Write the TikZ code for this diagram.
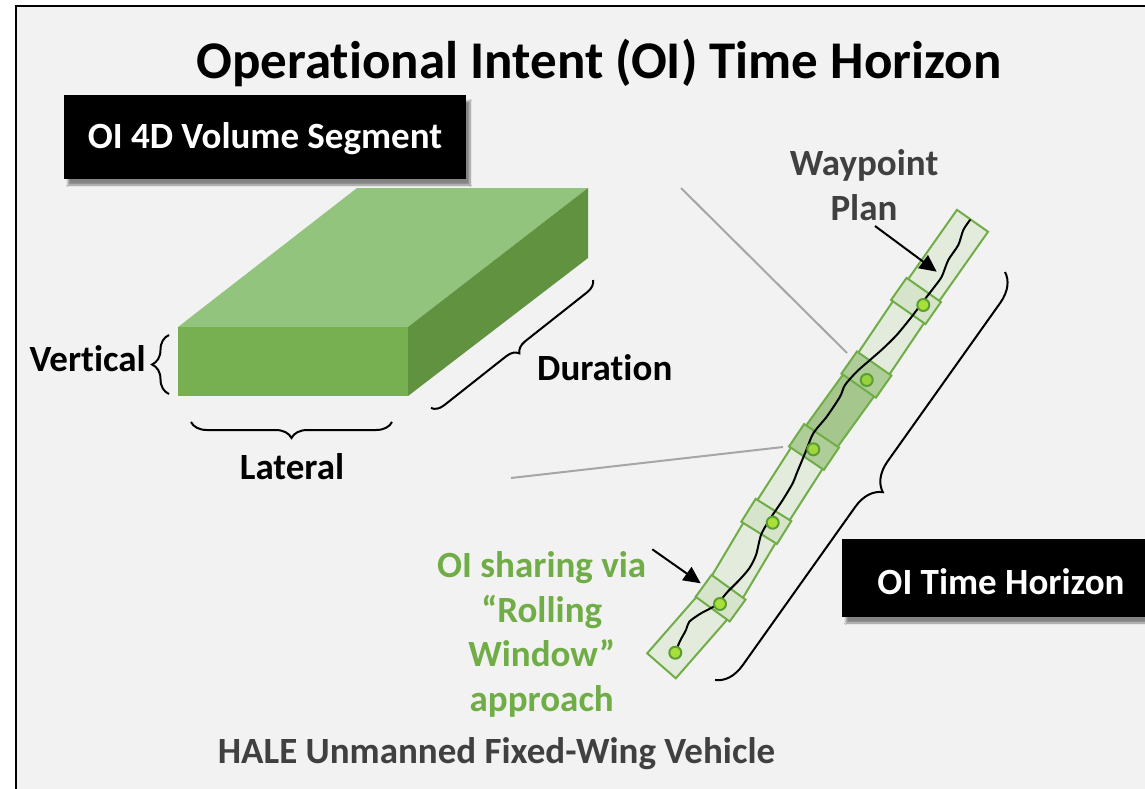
\documentclass[tikz,border=0pt]{standalone}
\usepackage{fontspec}
\setmainfont{Carlito}[RawFeature={-liga;-clig;-calt;-dlig}]
\usetikzlibrary{calc,arrows.meta,decorations.pathreplacing,shadows.blur}
\definecolor{oigreen}{HTML}{70AD47}
\definecolor{stripfill}{HTML}{E3EBDD}
\definecolor{boxfill}{HTML}{D6E4CC}
\definecolor{darkfill}{HTML}{A5C78E}
\definecolor{darkbox}{HTML}{AECD98}
\definecolor{dotfill}{HTML}{A8E03A}
\definecolor{dotring}{HTML}{5E9C36}
\definecolor{guidegray}{HTML}{A6A6A6}
\definecolor{textgray}{HTML}{404040}
\definecolor{bgfill}{HTML}{F2F2F2}
\definecolor{topface}{HTML}{93C47D}
\definecolor{frontface}{HTML}{76B050}
\definecolor{sideface}{HTML}{60923F}
\newcommand\stripseg[3]{%
  \filldraw[segline,fill=#3] ($(#1)!19pt!90:(#2)$) -- ($(#2)!19pt!-90:(#1)$) -- ($(#2)!19pt!90:(#1)$) -- ($(#1)!19pt!-90:(#2)$) -- cycle;}
\begin{document}
\begin{tikzpicture}[x=1pt,y=-1pt,
  lbl/.style={font=\fontsize{37}{45}\selectfont\bfseries, inner sep=0pt},
  blackbox/.style={fill=black, text=white, font=\fontsize{37}{45}\selectfont\bfseries, inner sep=0pt, text depth=0pt,
     blur shadow={shadow xshift=4pt, shadow yshift=-6pt, shadow blur steps=8, shadow opacity=45}},
  segline/.style={draw=oigreen, line width=2pt, line join=miter},
  wpbox/.style={draw=oigreen, line width=2pt, minimum width=27pt, minimum height=42pt, inner sep=0pt},
  wpdot/.style={circle, draw=dotring, line width=2pt, fill=dotfill, minimum size=12pt, inner sep=0pt},
  bracestyle/.style={draw=black, line width=2pt, decorate},
  arr/.style={line width=2pt, -{Triangle[length=17pt,width=16pt]}},
  guide/.style={draw=guidegray, line width=2pt}]
\useasboundingbox (0,0) rectangle (1145,789);
\fill[white] (0,0) rectangle (1145,789);
\filldraw[fill=bgfill, draw=black, line width=2.5pt] (16,6) rectangle (1165,810);

% title
\node[lbl, font=\fontsize{53}{60}\selectfont\bfseries, anchor=base] (title) at (599,79) {Operational Intent (OI) Time Horizon};

% 3D volume segment
\fill[topface] (178,327) -- (357,188) -- (588,188) -- (408,327) -- cycle;
\fill[sideface] (408,327) -- (588,188) -- (588,258) -- (408,396) -- cycle;
\fill[frontface] (178,327) rectangle (408,396);

\node[blackbox, text height=24pt, minimum width=402pt, minimum height=84pt] (segbox) at (265,137) {OI 4D Volume Segment};

% braces on the volume
\draw[bracestyle, decoration={brace, amplitude=17pt}] (169,394) -- (169,335);
\draw[bracestyle, decoration={brace, amplitude=16pt}] (392,422) -- (191,422);
\draw[bracestyle, decoration={brace, amplitude=12pt}] (593,280) -- (431,408);

\node[lbl, anchor=base east] (vert) at (146,371) {Vertical};
\node[lbl, anchor=base] (lat) at (292,479.5) {Lateral};
\node[lbl, anchor=base west] (dur) at (537,380) {Duration};

% guide lines
\coordinate (g1a) at (681,188);
\coordinate (g1b) at (847,353);
\coordinate (g2a) at (511,478);
\coordinate (g2b) at (783,447);
\draw[guide] (g1a) -- (g1b);
\draw[guide] (g2a) -- (g2b);

% strip (rolling window corridor)
\coordinate (p0) at (661.5,665.8);
\coordinate (p1) at (720.6,598.2);
\coordinate (p2) at (766.3,521.4);
\coordinate (p3) at (814,447);
\coordinate (p4) at (866.4,374.6);
\coordinate (p5) at (916,301);
\coordinate (p6) at (972.5,220.8);
\stripseg{p0}{p1}{stripfill}
\stripseg{p1}{p2}{stripfill}
\stripseg{p2}{p3}{stripfill}
\stripseg{p4}{p5}{stripfill}
\stripseg{p5}{p6}{stripfill}
\stripseg{p3}{p4}{darkfill}

\node[wpbox, rotate=54, fill=boxfill] (bxE) at (p1) {};
\node[wpbox, rotate=58, fill=boxfill] (bxD) at (p2) {};
\node[wpbox, rotate=56, fill=darkbox] (bxC) at (p3) {};
\node[wpbox, rotate=55, fill=darkbox] (bxB) at (p4) {};
\node[wpbox, rotate=55, fill=boxfill] (bxA) at (p5) {};

% flight path
\draw[black, line width=2pt, line cap=round] plot[smooth, tension=0.45] coordinates {
 (675.3,652.7) (680,641) (686,630) (689.3,621.7) (701,613.3) (716,605) (727.7,591.7)
 (739.3,580) (749.3,568.3) (756,555) (761,535) (769.3,520) (782.7,500) (792.7,483.3)
 (796.7,473.3) (805,453.3) (813.3,433.3) (826.7,416.7) (840,396.7) (845,385)
 (856.7,371.7) (870,360) (883.3,348.3) (896.7,335) (911.7,316.7) (921.7,303.3)
 (933.3,288.3) (941.7,276.7) (948.3,260) (958.3,245) (963.3,230) (970,220)};

\node[wpdot] (d0) at (675.3,652.7) {};
\node[wpdot] (d1) at (720,604) {};
\node[wpdot] (d2) at (772.7,522.7) {};
\node[wpdot, fill=dotfill!85!oigreen] (d3) at (813.3,449.3) {};
\node[wpdot, fill=dotfill!70!oigreen] (d4) at (866.7,380) {};
\node[wpdot] (d5) at (923.3,305) {};

% time horizon brace
\draw[bracestyle, decoration={brace, amplitude=28pt}] (1005,272) -- (715,680);

\node[blackbox, text height=32pt, minimum width=318pt, minimum height=78pt] (thbox) at (1001,578) {OI Time Horizon};

% waypoint plan label
\node[lbl, text=textgray, anchor=base] (wp) at (864,175.3)
  {\begin{tabular}[t]{@{}c@{}}Waypoint\\Plan\end{tabular}};
\coordinate (wpA) at (875,226);
\coordinate (wpB) at (936.7,271.7);
\draw[arr] (wpA) -- (wpB);

% rolling window label
\node[lbl, text=oigreen, anchor=base, font=\fontsize{37}{44.7}\selectfont\bfseries] (roll) at (541.7,577.5)
  {\begin{tabular}[t]{@{}c@{}}OI sharing via\\“Rolling\\Window”\\approach\end{tabular}};
\coordinate (rwA) at (652.3,549.3);
\coordinate (rwB) at (700.7,583.3);
\draw[arr] (rwA) -- (rwB);

% vehicle label
\node[lbl, text=textgray, anchor=base] (hale) at (496.5,763.5) {HALE Unmanned Fixed-Wing Vehicle};
\end{tikzpicture}
\end{document}
